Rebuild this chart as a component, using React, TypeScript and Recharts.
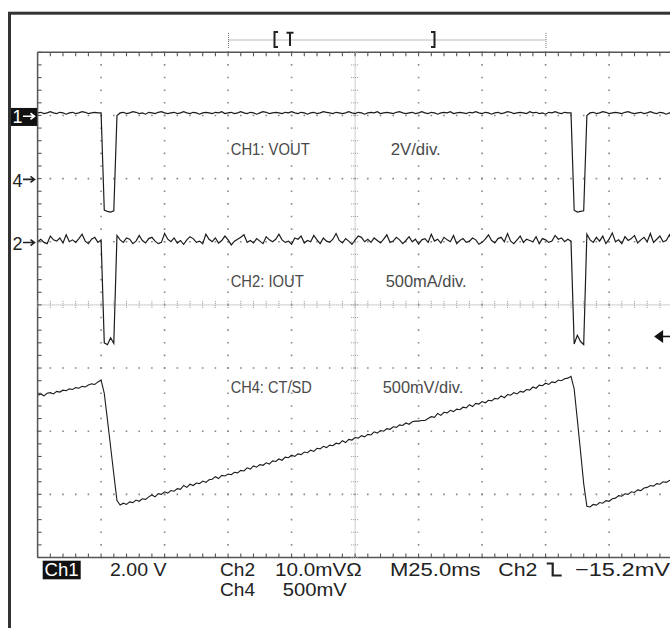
import React from "react";
import { LineChart, Line, XAxis, YAxis, ReferenceLine, ReferenceDot } from "recharts";

// scope record: 201 samples, 1.25 ms apart, 25 ms/div over 10 divisions
const SAMPLE_MS = 1.25;

// traces, in hundredths of a division (centre line = 0)
const ch1Vout = [
  304, 305, 303, 304, 306, 304, 303, 305, 304, 302, 304, 305, 303, 304, 306, 305, 303, 304, 305, 304,
  304, 150, 148, 147, 149, 300,
  304, 305, 303, 304, 306, 305, 303, 304, 302, 305,
  304, 303, 305, 306, 304, 303, 304, 305, 303, 304,
  306, 304, 303, 305, 304, 302, 304, 305, 304, 303,
  305, 304, 306, 303, 304, 305, 303, 304, 306, 304,
  303, 305, 304, 302, 304, 306, 305, 303, 304, 305,
  304, 303, 305, 304, 306, 304, 303, 305, 304, 302,
  304, 305, 303, 304, 306, 305, 304, 303, 305, 304,
  303, 304, 306, 304, 303, 305, 304, 302, 304, 305,
  304, 306, 303, 304, 305, 304, 303, 305, 306, 304,
  303, 304, 305, 303, 304, 306, 304, 303, 305, 304,
  302, 304, 305, 304, 306, 303, 304, 305, 304, 303,
  305, 304, 306, 304, 303, 305, 304, 302, 304, 305,
  303, 304, 306, 305, 303, 304, 305, 304, 303, 306,
  304, 305, 303, 304, 302, 305, 304, 306, 304, 303,
  305, 304, 304, 150, 147, 148, 149,
  300, 304, 305, 303, 304, 306, 305, 303, 304, 305, 304, 303, 305, 306,
  304, 303, 304, 305, 303, 304, 306, 304, 303, 305, 304, 302, 304, 305,
];

const ch2Iout = [
  100, 104, 99, 97, 109, 103, 101, 106, 98, 111, 100, 103, 99, 105, 112, 101, 97, 104, 107, 99,
  103, -60, -63, -52, -61, 110,
  103, 99, 106, 104, 97, 101, 110, 102, 98, 105,
  107, 101, 97, 99, 113, 104, 100, 106, 98, 102,
  96, 103, 108, 105, 99, 101, 97, 112, 104, 100,
  106, 98, 102, 109, 103, 95, 101, 104, 107, 111,
  99, 102, 98, 105, 101, 97, 108, 103, 100, 104,
  112, 103, 99, 101, 96, 106, 104, 109, 98, 102,
  100, 110, 103, 97, 106, 101, 99, 104, 113, 102,
  98, 105, 101, 96, 103, 109, 107, 100, 104, 99,
  106, 102, 98, 104, 111, 99, 101, 107, 103, 97,
  102, 108, 100, 104, 96, 103, 105, 99, 112, 101,
  104, 98, 107, 103, 100, 110, 97, 102, 105, 99,
  101, 106, 103, 96, 99, 104, 111, 102, 98, 105,
  107, 100, 113, 101, 97, 103, 109, 99, 104, 102,
  100, 108, 97, 105, 103, 99, 101, 110, 104, 106,
  100, 104, 101, -62, -48, -58, -63,
  112, 103, 99, 107, 101, 109, 97, 104, 114, 100, 103, 97, 108, 102,
  105, 110, 98, 103, 107, 100, 113, 99, 104, 109, 100, 102, 111, 99,
];

const ch4CtSd = [
  -143, -141, -144, -140, -139, -141, -137, -138, -135, -136, -133, -134, -131, -132, -129, -130,
  -127, -125, -126, -122, -119,
  -140, -182, -225, -268, -310,
  -317, -314, -316, -312, -313, -309, -311, -307, -308, -304,
  -301, -304, -299, -300, -296, -298, -294, -295, -291, -292,
  -286, -289, -284, -286, -282, -283, -279, -281, -277, -276,
  -272, -275, -270, -271, -268, -269, -265, -266, -262, -263,
  -258, -260, -255, -257, -253, -254, -250, -252, -247, -248,
  -244, -246, -241, -242, -238, -240, -236, -237, -233, -234,
  -230, -232, -227, -228, -224, -226, -222, -223, -219, -220,
  -215, -218, -213, -214, -210, -211, -207, -209, -205, -206,
  -201, -203, -199, -200, -196, -197, -193, -194, -190, -191,
  -187, -189, -185, -184, -184, -183, -183, -180, -177, -178,
  -172, -175, -170, -171, -167, -169, -165, -166, -162, -163,
  -158, -161, -156, -157, -153, -155, -151, -152, -148, -149,
  -144, -147, -142, -143, -139, -141, -137, -138, -134, -135,
  -130, -132, -127, -128, -124, -126, -122, -123, -119, -120,
  -117, -116, -113,
  -133, -182, -232, -283, -319,
  -320, -316, -317, -313, -314, -310, -311, -307, -306, -302,
  -303, -299, -300, -296, -297, -293, -294, -290, -289, -286,
  -287, -283, -284, -280, -281, -278, -276,
];

// ground markers on the left edge (level in divisions)
const groundMarkers = [
  { level: 3, label: "1", boxed: true },
  { level: 2, label: "4", boxed: false },
  { level: 1, label: "2", boxed: false },
];

const TRIGGER_LEVEL = -0.5;
const TRIGGER_MARK_MS = 244.3;

const majorX = [25, 50, 75, 100, 150, 175, 200, 225];
const majorY = [-3, -2, -1, 1, 2, 3];
const CENTER_X = 125;

const channelLabels = [
  { text: "CH1: VOUT", x: 230.7, y: 155, w: 79 },
  { text: "2V/div.", x: 390.7, y: 155, w: 50 },
  { text: "CH2: IOUT", x: 230.7, y: 287.3, w: 73 },
  { text: "500mA/div.", x: 385.7, y: 287.3, w: 81 },
  { text: "CH4: CT/SD", x: 230.7, y: 393.3, w: 81 },
  { text: "500mV/div.", x: 382.7, y: 393.3, w: 80.6 },
];

const readout = [
  { text: "2.00 V", x: 110, y: 576, w: 56.5 },
  { text: "Ch2", x: 220, y: 576, w: 35 },
  { text: "10.0mVΩ", x: 275, y: 576, w: 86.7 },
  { text: "M25.0ms", x: 390, y: 576, w: 90.5 },
  { text: "Ch2", x: 498.3, y: 576, w: 39 },
  { text: "−15.2mV", x: 575, y: 576, w: 95 },
  { text: "Ch4", x: 220, y: 596, w: 35 },
  { text: "500mV", x: 282.7, y: 596, w: 64 },
];

const table = ch1Vout.map((v, i) => ({
  t: i * SAMPLE_MS,
  ch1: v / 100,
  ch2: ch2Iout[i] / 100,
  ch4: ch4CtSd[i] / 100,
}));

const FONT = "'Liberation Sans', Arial, sans-serif";
const TRACE = "#1c1c1c";
const EDGE = "#555";

// chart geometry (plot area = graticule)
const CHART_W = 680;
const CHART_H = 600;
const MARGIN = { top: 52.3, right: 7.4, bottom: 42.5, left: 9 };
const MARKER_W = 28.6;
const PL = MARGIN.left + MARKER_W;
const PT = MARGIN.top;
const PW = CHART_W - MARGIN.right - PL;
const PH = CHART_H - MARGIN.bottom - PT;
const H_STEPS = Array.from({ length: 51 }, (_, i) => PL + (i * PW) / 50);
const V_STEPS = Array.from({ length: 41 }, (_, i) => PT + (i * PH) / 40);

function GroundMarker(props: any) {
  const { y, payload } = props;
  const m = groundMarkers.find((g) => g.level === payload.value);
  if (!m) return <g />;
  const ink = m.boxed ? "#fff" : "#222";
  return (
    <g>
      {m.boxed && <rect x={11} y={y - 7.5} width={26} height={18} fill="#111" />}
      <text x={12.5} y={y + 8} fontSize={18} fill={ink} fontFamily={FONT}>
        {m.label}
      </text>
      <path
        d={`M23,${y + 0.8} H34 M30.5,${y - 2.2} L34.5,${y + 0.8} L30.5,${y + 3.8}`}
        stroke={ink}
        strokeWidth={1.6}
        fill="none"
      />
    </g>
  );
}

function TriggerArrow(props: any) {
  const { cx, cy } = props;
  return (
    <g>
      <path d={`M${cx - 4},${cy} L${cx + 5},${cy - 6.5} L${cx + 5},${cy + 6.5} Z`} fill="#111" />
      <line x1={cx + 4} y1={cy} x2={cx + 14} y2={cy} stroke="#111" strokeWidth={1.6} />
    </g>
  );
}

export default function App() {
  const cxMid = PL + PW / 2;
  const cyMid = PT + PH / 2;
  return (
    <div style={{ position: "fixed", left: 0, top: 0, width: 670, height: 628, overflow: "hidden", background: "#fff" }}>
      <div style={{ position: "absolute", left: 0, top: 0 }}>
        <LineChart width={CHART_W} height={CHART_H} data={table} margin={MARGIN}>
          <XAxis
            xAxisId={0}
            dataKey="t"
            type="number"
            domain={[0, 250]}
            ticks={[0, 250]}
            orientation="bottom"
            mirror
            tick={false}
            tickLine={false}
            axisLine={{ stroke: EDGE, strokeWidth: 1.5 }}
          />
          <XAxis
            xAxisId="top"
            dataKey="t"
            type="number"
            domain={[0, 250]}
            ticks={[0, 250]}
            orientation="top"
            mirror
            tick={false}
            tickLine={false}
            axisLine={{ stroke: EDGE, strokeWidth: 1.5 }}
          />
          <YAxis
            yAxisId={0}
            type="number"
            domain={[-4, 4]}
            ticks={groundMarkers.map((g) => g.level)}
            interval={0}
            width={MARKER_W}
            tick={GroundMarker}
            tickLine={false}
            axisLine={{ stroke: EDGE, strokeWidth: 1.5 }}
          />

          {majorX.map((x) => (
            <ReferenceLine key={`gx${x}`} x={x} stroke="#888" strokeWidth={1.6} strokeLinecap="square" strokeDasharray="0.01 12.62" />
          ))}
          {majorY.map((y) => (
            <ReferenceLine key={`gy${y}`} y={y} stroke="#888" strokeWidth={1.6} strokeLinecap="square" strokeDasharray="0.01 12.69" />
          ))}
          <ReferenceLine x={CENTER_X} stroke="#999" strokeWidth={1} strokeDasharray="1 1" />
          <ReferenceLine y={0} stroke="#999" strokeWidth={1} strokeDasharray="1 1" />

          <Line dataKey="ch1" type="linear" stroke={TRACE} strokeWidth={1.2} dot={false} isAnimationActive={false} />
          <Line dataKey="ch2" type="linear" stroke={TRACE} strokeWidth={1.2} dot={false} isAnimationActive={false} />
          <Line dataKey="ch4" type="linear" stroke={TRACE} strokeWidth={1.1} dot={false} isAnimationActive={false} />

          <ReferenceDot x={TRIGGER_MARK_MS} y={TRIGGER_LEVEL} r={6} ifOverflow="visible" shape={TriggerArrow} />
        </LineChart>
      </div>

      <svg width={670} height={628} style={{ position: "absolute", left: 0, top: 0, pointerEvents: "none" }}>
        {/* screen frame */}
        <rect x={9.5} y={13.2} width={700} height={700} fill="none" stroke="#333" strokeWidth={3} />

        {/* graticule minor ticks */}
        <g stroke={EDGE} strokeWidth={1.1}>
          {H_STEPS.map((x, i) => (
            <line key={`t${i}`} x1={x} y1={PT} x2={x} y2={PT + 4} />
          ))}
          {H_STEPS.map((x, i) => (
            <line key={`b${i}`} x1={x} y1={PT + PH} x2={x} y2={PT + PH - 4} />
          ))}
          {V_STEPS.map((y, i) => (
            <line key={`l${i}`} x1={PL} y1={y} x2={PL + 4} y2={y} />
          ))}
        </g>
        <g stroke="#999" strokeWidth={1} strokeDasharray="1 1">
          {H_STEPS.map((x, i) => (
            <line key={`cv${i}`} x1={x} y1={cyMid - 4} x2={x} y2={cyMid + 4} />
          ))}
          {V_STEPS.map((y, i) => (
            <line key={`ch${i}`} x1={cxMid - 4} y1={y} x2={cxMid + 4} y2={y} />
          ))}
        </g>

        {/* record window bracket */}
        <line x1={228.5} y1={40} x2={546} y2={40} stroke="#777" strokeWidth={1} strokeDasharray="1 1" />
        <line x1={228.5} y1={33} x2={228.5} y2={48} stroke="#777" strokeWidth={1} strokeDasharray="1 1" />
        <line x1={546} y1={33} x2={546} y2={48} stroke="#777" strokeWidth={1} strokeDasharray="1 1" />
        <path d="M278,32 H274.5 V47 H278" stroke="#222" strokeWidth={2} fill="none" />
        <path d="M286.5,32.8 H293.5 M290,32.8 V46" stroke="#222" strokeWidth={2} fill="none" />
        <path d="M431,32 H434.5 V47 H431" stroke="#222" strokeWidth={2} fill="none" />

        {channelLabels.map((l) => (
          <text key={l.text} x={l.x} y={l.y} fontSize={16} fill="#4a4a4a" fontFamily={FONT} textLength={l.w} lengthAdjust="spacingAndGlyphs">
            {l.text}
          </text>
        ))}

        {/* readout */}
        <rect x={42.7} y={560.7} width={38} height={18.6} fill="#111" />
        <text x={44.5} y={576} fontSize={19} fill="#fff" fontFamily={FONT} textLength={34} lengthAdjust="spacingAndGlyphs">
          Ch1
        </text>
        {readout.map((r, i) => (
          <text key={i} x={r.x} y={r.y} fontSize={19} fill="#222" fontFamily={FONT} textLength={r.w} lengthAdjust="spacingAndGlyphs">
            {r.text}
          </text>
        ))}
        <path d="M546.7,563.5 H552.7 V575.5 H561.7" stroke="#222" strokeWidth={2.2} fill="none" />
      </svg>
    </div>
  );
}
